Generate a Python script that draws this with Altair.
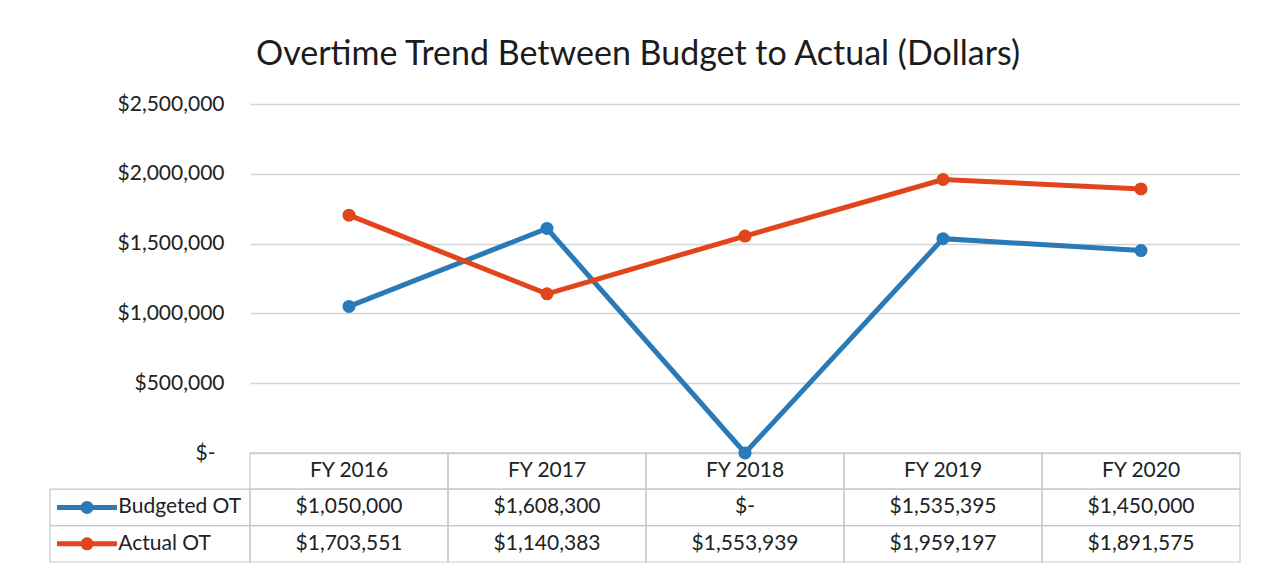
import altair as alt
import pandas as pd

# ---------------- data ----------------
categories = ["FY 2016", "FY 2017", "FY 2018", "FY 2019", "FY 2020"]
budgeted_ot = [1050000, 1608300, 0, 1535395, 1450000]
actual_ot = [1703551, 1140383, 1553939, 1959197, 1891575]
series_names = ["Budgeted OT", "Actual OT"]
series_colors = ["#2a7ab8", "#e2441c"]
y_ticks = [0, 500000, 1000000, 1500000, 2000000, 2500000]
title_text = "Overtime Trend Between Budget to Actual (Dollars)"

# ---------------- layout constants ----------------
FONT = "Lato"
FS = 21
W, H = 990, 458          # plot area (line chart + data table below it)
ZERO_PX = 349            # pixel row of $0 from the top of the plot area
ROW_PX = 36.4            # height of one data-table row
Y_MAX = 2500000
y_lo = -Y_MAX * (H - ZERO_PX) / ZERO_PX
T_MAX = H / ROW_PX
LEFT_EDGE = -1.01        # left border of the legend column (x units of one category)
SW_X0, SW_X1, SW_DOT, LBL_X = -0.975, -0.672, -0.823, -0.665
TEXT_COLOR = "#222222"
GRID_COLOR = "#d4d4d4"


def money(v):
    return "$-" if v == 0 else "${:,}".format(v)


series_values = [budgeted_ot, actual_ot]

line_rows = []
for s, vals in zip(series_names, series_values):
    for i, (c, v) in enumerate(zip(categories, vals)):
        line_rows.append({"series": s, "category": c, "pos": i + 0.5, "value": v})
line_df = pd.DataFrame(line_rows)

# table cells
cell_rows = []
text_rows = []
for i, c in enumerate(categories):
    cell_rows.append({"x0": i, "x1": i + 1, "y0": 2, "y1": 3})
    text_rows.append({"x": i + 0.5, "y": 2.5, "label": c})
for r, (s, vals) in enumerate(zip(series_names, series_values)):
    yb = 1 - r
    cell_rows.append({"x0": LEFT_EDGE, "x1": 0, "y0": yb, "y1": yb + 1})
    for i, v in enumerate(vals):
        cell_rows.append({"x0": i, "x1": i + 1, "y0": yb, "y1": yb + 1})
        text_rows.append({"x": i + 0.5, "y": yb + 0.5, "label": money(v)})
cells_df = pd.DataFrame(cell_rows)
text_df = pd.DataFrame(text_rows)

legend_df = pd.DataFrame({
    "series": series_names,
    "y": [1.5, 0.5],
    "x0": [SW_X0] * 2,
    "x1": [SW_X1] * 2,
    "xd": [SW_DOT] * 2,
    "xl": [LBL_X] * 2,
})

x_scale = alt.Scale(domain=[0, len(categories)], nice=False, zero=False)
color_scale = alt.Scale(domain=series_names, range=series_colors)
t_scale = alt.Scale(domain=[0, T_MAX], nice=False, zero=False)
y_scale = alt.Scale(domain=[y_lo, Y_MAX], nice=False, zero=False)

# ---------------- table layers ----------------
cells = alt.Chart(cells_df).mark_rect(
    fillOpacity=0, stroke="#c9c9c9", strokeWidth=1.2
).encode(
    x=alt.X("x0:Q", scale=x_scale, axis=None),
    x2="x1:Q",
    y=alt.Y("y0:Q", scale=t_scale, axis=None),
    y2="y1:Q",
)

cell_text = alt.Chart(text_df).mark_text(
    font=FONT, fontSize=FS, color=TEXT_COLOR, align="center", baseline="middle"
).encode(
    x=alt.X("x:Q", scale=x_scale, axis=None),
    y=alt.Y("y:Q", scale=t_scale, axis=None),
    text="label:N",
)

swatch_line = alt.Chart(legend_df).mark_rule(strokeWidth=5).encode(
    x=alt.X("x0:Q", scale=x_scale, axis=None),
    x2="x1:Q",
    y=alt.Y("y:Q", scale=t_scale, axis=None),
    color=alt.Color("series:N", scale=color_scale, legend=None),
)
swatch_dot = alt.Chart(legend_df).mark_circle(size=170, opacity=1).encode(
    x=alt.X("xd:Q", scale=x_scale, axis=None),
    y=alt.Y("y:Q", scale=t_scale, axis=None),
    color=alt.Color("series:N", scale=color_scale, legend=None),
)
legend_text = alt.Chart(legend_df).mark_text(
    font=FONT, fontSize=FS, color=TEXT_COLOR, align="left", baseline="middle"
).encode(
    x=alt.X("xl:Q", scale=x_scale, axis=None),
    y=alt.Y("y:Q", scale=t_scale, axis=None),
    text="series:N",
)

table = alt.layer(cells, swatch_line, swatch_dot, legend_text, cell_text)

# ---------------- line layers ----------------
label_expr = "datum.value == 0 ? '$-' : '$' + format(datum.value, ',')"

y_axis = alt.Axis(
    values=y_ticks,
    labelExpr=label_expr,
    title=None,
    domain=False,
    ticks=False,
    grid=True,
    gridColor=GRID_COLOR,
    gridWidth=1.3,
    labelFont=FONT,
    labelFontSize=FS,
    labelColor=TEXT_COLOR,
    labelPadding={"condition": {"test": "datum.value == 0", "value": 35}, "value": 26},
)
y_enc = alt.Y("value:Q", scale=y_scale, axis=y_axis)

lines = alt.Chart(line_df).mark_line(strokeWidth=5).encode(
    x=alt.X("pos:Q", scale=x_scale, axis=None),
    y=y_enc,
    color=alt.Color("series:N", scale=color_scale, legend=None),
    order="pos:Q",
)
points = alt.Chart(line_df).mark_circle(size=170, opacity=1).encode(
    x=alt.X("pos:Q", scale=x_scale, axis=None),
    y=y_enc,
    color=alt.Color("series:N", scale=color_scale, legend=None),
)

plot = alt.layer(lines, points)

chart = (
    alt.layer(table, plot)
    .resolve_scale(y="independent")
    .properties(
        width=W,
        height=H,
        background="white",
        autosize=alt.AutoSizeParams(type="none"),
        padding={"left": 242, "top": 96, "right": 12, "bottom": 8},
        title=alt.TitleParams(
            text=title_text,
            anchor="start",
            frame="group",
            font=FONT,
            fontSize=34,
            fontWeight="normal",
            color="#1c1c1c",
            offset=21,
            dx=6,
        ),
    )
    .configure_view(stroke="transparent", strokeWidth=0)
)

chart.save("out.html", embed_options={"renderer": "svg", "actions": False})
